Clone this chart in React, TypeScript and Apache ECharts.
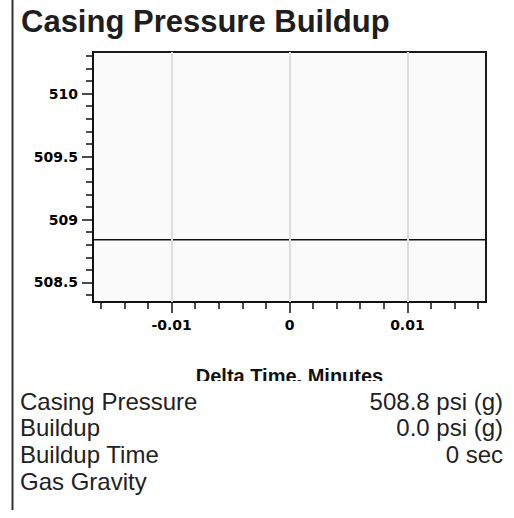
import React, { useEffect, useRef } from "react";
import * as echarts from "echarts";

// ---- data ----
const TIME_RANGE = [-0.016667, 0.016667]; // minutes (±1 sec)
const PRESSURE = [508.84, 508.84]; // psi (g)
const X_MAJOR = [-0.01, 0, 0.01];
const X_MINOR = [-0.016, -0.014, -0.012, -0.008, -0.006, -0.004, -0.002, 0.002, 0.004, 0.006, 0.008, 0.012, 0.014, 0.016];
const Y_RANGE = [508.345, 510.33];
const Y_MAJOR = [508.5, 509, 509.5, 510];
const Y_MINOR = [508.4, 508.6, 508.7, 508.8, 508.9, 509.1, 509.2, 509.3, 509.4, 509.6, 509.7, 509.8, 509.9, 510.1, 510.2, 510.3];
const INFO_LABELS = ["Casing Pressure", "Buildup", "Buildup Time", "Gas Gravity"];
const INFO_VALUES = ["508.8 psi (g)", "0.0 psi (g)", "0 sec", ""];

const TICK_FONT = "DejaVu Sans";
const MAIN_FONT = "Liberation Sans";

export default function App() {
  const ref = useRef<HTMLDivElement>(null);
  useEffect(() => {
    if (!ref.current) return;
    const chart = echarts.init(ref.current, undefined, { renderer: "svg" });
    const gridBox = { left: 93, right: 28, top: 52, bottom: 216 };
    const fmt = (v: number) => String(+Number(v).toFixed(4));
    const infoTexts: any[] = [];
    INFO_LABELS.forEach((lab, i) => {
      const y = 389 + i * 26.8;
      infoTexts.push({
        type: "text", left: 20, top: y, z: 200,
        style: { text: lab, font: `24px '${MAIN_FONT}'`, fill: "#222" },
      });
      if (INFO_VALUES[i]) {
        infoTexts.push({
          type: "text", right: 11, top: y, z: 200,
          style: { text: INFO_VALUES[i], font: `24px '${MAIN_FONT}'`, fill: "#222", align: "right" },
        });
      }
    });
    const tickStyle = { color: "#111", width: 1.5 };
    chart.setOption({
      animation: false,
      backgroundColor: "#ffffff",
      title: {
        text: "Casing Pressure Buildup",
        left: 16, top: 1,
        textStyle: { fontFamily: MAIN_FONT, fontSize: 31, fontWeight: "bold", color: "#1e1e1e" },
      },
      grid: [
        { ...gridBox, show: true, backgroundColor: "#fafafa", borderColor: "#1a1a1a", borderWidth: 2 },
        { ...gridBox, show: false },
      ],
      xAxis: [
        {
          gridIndex: 0, type: "value", min: TIME_RANGE[0], max: TIME_RANGE[1], position: "bottom",
          axisLine: { show: true, onZero: false, lineStyle: { color: "#111", width: 2 } },
          axisTick: { show: true, customValues: X_MAJOR, length: 11, lineStyle: tickStyle },
          axisLabel: {
            customValues: X_MAJOR, margin: 16, formatter: fmt,
            fontFamily: TICK_FONT, fontWeight: "bold", fontSize: 14, color: "#000",
          },
          splitLine: { show: false },
          name: "Delta Time, Minutes", nameLocation: "middle", nameGap: 64,
          nameTextStyle: { fontFamily: MAIN_FONT, fontWeight: "bold", fontSize: 20, color: "#111", verticalAlign: "top" },
        },
        {
          gridIndex: 1, type: "value", min: TIME_RANGE[0], max: TIME_RANGE[1], position: "bottom",
          axisLine: { show: false, onZero: false },
          axisTick: { show: true, customValues: X_MINOR, length: 7, lineStyle: tickStyle },
          axisLabel: { show: false },
          splitLine: { show: false },
        },
      ],
      yAxis: [
        {
          gridIndex: 0, type: "value", min: Y_RANGE[0], max: Y_RANGE[1], position: "left",
          axisLine: { show: true, onZero: false, lineStyle: { color: "#111", width: 2 } },
          axisTick: { show: true, customValues: Y_MAJOR, length: 11, lineStyle: tickStyle },
          axisLabel: {
            customValues: Y_MAJOR, margin: 15, formatter: fmt,
            fontFamily: TICK_FONT, fontWeight: "bold", fontSize: 14, color: "#000",
          },
          splitLine: { show: false },
        },
        {
          gridIndex: 1, type: "value", min: Y_RANGE[0], max: Y_RANGE[1], position: "left",
          axisLine: { show: false, onZero: false },
          axisTick: { show: true, customValues: Y_MINOR, length: 7, lineStyle: tickStyle },
          axisLabel: { show: false },
          splitLine: { show: false },
        },
      ],
      series: [
        {
          type: "line", xAxisIndex: 0, yAxisIndex: 0, data: [], z: 1, silent: true,
          markLine: {
            silent: true, symbol: "none", label: { show: false },
            lineStyle: { color: "#dedede", width: 2, type: "solid" },
            data: X_MAJOR.map((v) => ({ xAxis: v })),
          },
        },
        {
          type: "line", xAxisIndex: 0, yAxisIndex: 0, z: 3, silent: true,
          data: TIME_RANGE.map((t, i) => [t, PRESSURE[i]]),
          showSymbol: false, symbol: "none",
          lineStyle: { color: "#111", width: 1.5 },
        },
      ],
      graphic: [
        { type: "rect", shape: { x: 14, y: 381, width: 500, height: 137 }, style: { fill: "#ffffff" }, z: 150 },
        { type: "line", shape: { x1: 12.5, y1: 0, x2: 12.5, y2: 510 }, style: { stroke: "#333", lineWidth: 2 }, z: 210 },
        ...infoTexts,
      ],
    });
    return () => chart.dispose();
  }, []);
  return <div ref={ref} style={{ position: "absolute", left: 0, top: 0, width: 514, height: 518 }} />;
}
